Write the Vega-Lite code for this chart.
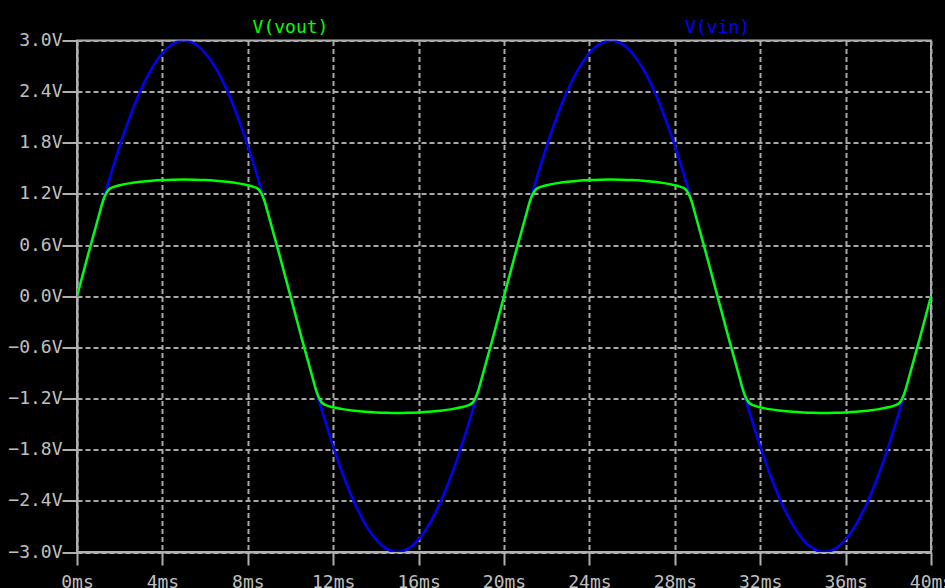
{
  "$schema": "https://vega.github.io/schema/vega-lite/v6.json",
  "width": 854,
  "height": 511.5,
  "autosize": {"type": "none"},
  "padding": {"left": 77, "top": 40.5, "right": 14, "bottom": 36},
  "background": "#000000",
  "config": {
    "view": {"stroke": "#b0b0b0", "strokeWidth": 2, "fill": "#000000"},
    "axis": {
      "domainColor": "#b0b0b0",
      "domainWidth": 2,
      "tickColor": "#b0b0b0",
      "tickWidth": 2,
      "gridColor": "#a8a8a8",
      "gridWidth": 2,
      "gridDash": [5, 3],
      "labelColor": "#c0c0c0",
      "labelFont": "DejaVu Sans Mono",
      "labelFontSize": 18,
      "labelOverlap": false,
      "labelBound": false,
      "labelFlush": false
    },
    "axisX": {"tickSize": 13, "labelPadding": 8},
    "axisY": {"tickSize": 15, "labelPadding": 0}
  },
  "datasets": {
    "trace": [
      {"t": 0, "vin": 0, "vout": 0},
      {"t": 0.5, "vin": 0.469, "vout": 0.469},
      {"t": 1, "vin": 0.927, "vout": 0.924},
      {"t": 1.25, "vin": 1.148, "vout": 1.14},
      {"t": 1.5, "vin": 1.362, "vout": 1.255},
      {"t": 1.75, "vin": 1.568, "vout": 1.285},
      {"t": 2, "vin": 1.763, "vout": 1.302},
      {"t": 2.5, "vin": 2.121, "vout": 1.327},
      {"t": 3, "vin": 2.427, "vout": 1.343},
      {"t": 3.5, "vin": 2.673, "vout": 1.355},
      {"t": 4, "vin": 2.853, "vout": 1.363},
      {"t": 4.5, "vin": 2.963, "vout": 1.368},
      {"t": 5, "vin": 3, "vout": 1.37},
      {"t": 5.5, "vin": 2.963, "vout": 1.368},
      {"t": 6, "vin": 2.853, "vout": 1.363},
      {"t": 6.5, "vin": 2.673, "vout": 1.355},
      {"t": 7, "vin": 2.427, "vout": 1.343},
      {"t": 7.5, "vin": 2.121, "vout": 1.327},
      {"t": 8, "vin": 1.763, "vout": 1.302},
      {"t": 8.25, "vin": 1.568, "vout": 1.285},
      {"t": 8.5, "vin": 1.362, "vout": 1.255},
      {"t": 8.75, "vin": 1.148, "vout": 1.14},
      {"t": 9, "vin": 0.927, "vout": 0.924},
      {"t": 9.5, "vin": 0.469, "vout": 0.469},
      {"t": 10, "vin": 0, "vout": 0},
      {"t": 10.5, "vin": -0.469, "vout": -0.469},
      {"t": 11, "vin": -0.927, "vout": -0.924},
      {"t": 11.25, "vin": -1.148, "vout": -1.14},
      {"t": 11.5, "vin": -1.362, "vout": -1.255},
      {"t": 11.75, "vin": -1.568, "vout": -1.285},
      {"t": 12, "vin": -1.763, "vout": -1.302},
      {"t": 12.5, "vin": -2.121, "vout": -1.327},
      {"t": 13, "vin": -2.427, "vout": -1.343},
      {"t": 13.5, "vin": -2.673, "vout": -1.355},
      {"t": 14, "vin": -2.853, "vout": -1.363},
      {"t": 14.5, "vin": -2.963, "vout": -1.368},
      {"t": 15, "vin": -3, "vout": -1.37},
      {"t": 15.5, "vin": -2.963, "vout": -1.368},
      {"t": 16, "vin": -2.853, "vout": -1.363},
      {"t": 16.5, "vin": -2.673, "vout": -1.355},
      {"t": 17, "vin": -2.427, "vout": -1.343},
      {"t": 17.5, "vin": -2.121, "vout": -1.327},
      {"t": 18, "vin": -1.763, "vout": -1.302},
      {"t": 18.25, "vin": -1.568, "vout": -1.285},
      {"t": 18.5, "vin": -1.362, "vout": -1.255},
      {"t": 18.75, "vin": -1.148, "vout": -1.14},
      {"t": 19, "vin": -0.927, "vout": -0.924},
      {"t": 19.5, "vin": -0.469, "vout": -0.469},
      {"t": 20, "vin": 0, "vout": 0},
      {"t": 20.5, "vin": 0.469, "vout": 0.469},
      {"t": 21, "vin": 0.927, "vout": 0.924},
      {"t": 21.25, "vin": 1.148, "vout": 1.14},
      {"t": 21.5, "vin": 1.362, "vout": 1.255},
      {"t": 21.75, "vin": 1.568, "vout": 1.285},
      {"t": 22, "vin": 1.763, "vout": 1.302},
      {"t": 22.5, "vin": 2.121, "vout": 1.327},
      {"t": 23, "vin": 2.427, "vout": 1.343},
      {"t": 23.5, "vin": 2.673, "vout": 1.355},
      {"t": 24, "vin": 2.853, "vout": 1.363},
      {"t": 24.5, "vin": 2.963, "vout": 1.368},
      {"t": 25, "vin": 3, "vout": 1.37},
      {"t": 25.5, "vin": 2.963, "vout": 1.368},
      {"t": 26, "vin": 2.853, "vout": 1.363},
      {"t": 26.5, "vin": 2.673, "vout": 1.355},
      {"t": 27, "vin": 2.427, "vout": 1.343},
      {"t": 27.5, "vin": 2.121, "vout": 1.327},
      {"t": 28, "vin": 1.763, "vout": 1.302},
      {"t": 28.25, "vin": 1.568, "vout": 1.285},
      {"t": 28.5, "vin": 1.362, "vout": 1.255},
      {"t": 28.75, "vin": 1.148, "vout": 1.14},
      {"t": 29, "vin": 0.927, "vout": 0.924},
      {"t": 29.5, "vin": 0.469, "vout": 0.469},
      {"t": 30, "vin": 0, "vout": 0},
      {"t": 30.5, "vin": -0.469, "vout": -0.469},
      {"t": 31, "vin": -0.927, "vout": -0.924},
      {"t": 31.25, "vin": -1.148, "vout": -1.14},
      {"t": 31.5, "vin": -1.362, "vout": -1.255},
      {"t": 31.75, "vin": -1.568, "vout": -1.285},
      {"t": 32, "vin": -1.763, "vout": -1.302},
      {"t": 32.5, "vin": -2.121, "vout": -1.327},
      {"t": 33, "vin": -2.427, "vout": -1.343},
      {"t": 33.5, "vin": -2.673, "vout": -1.355},
      {"t": 34, "vin": -2.853, "vout": -1.363},
      {"t": 34.5, "vin": -2.963, "vout": -1.368},
      {"t": 35, "vin": -3, "vout": -1.37},
      {"t": 35.5, "vin": -2.963, "vout": -1.368},
      {"t": 36, "vin": -2.853, "vout": -1.363},
      {"t": 36.5, "vin": -2.673, "vout": -1.355},
      {"t": 37, "vin": -2.427, "vout": -1.343},
      {"t": 37.5, "vin": -2.121, "vout": -1.327},
      {"t": 38, "vin": -1.763, "vout": -1.302},
      {"t": 38.25, "vin": -1.568, "vout": -1.285},
      {"t": 38.5, "vin": -1.362, "vout": -1.255},
      {"t": 38.75, "vin": -1.148, "vout": -1.14},
      {"t": 39, "vin": -0.927, "vout": -0.924},
      {"t": 39.5, "vin": -0.469, "vout": -0.469},
      {"t": 40, "vin": 0, "vout": 0}
    ]
  },
  "layer": [
    {
      "data": {"name": "trace"},
      "mark": {"type": "line", "color": "#0000ff", "strokeWidth": 2.5, "interpolate": "monotone", "clip": true},
      "encoding": {
        "x": {
          "field": "t",
          "type": "quantitative",
          "scale": {"domain": [0, 40], "nice": false, "zero": false},
          "axis": {"title": null, "values": [0, 4, 8, 12, 16, 20, 24, 28, 32, 36, 40], "labelExpr": "datum.value + 'ms'"}
        },
        "y": {
          "field": "vin",
          "type": "quantitative",
          "scale": {"domain": [-3, 3], "nice": false},
          "axis": {"title": null, "values": [-3, -2.4, -1.8, -1.2, -0.6, 0, 0.6, 1.2, 1.8, 2.4, 3], "labelExpr": "format(datum.value, '.1f') + 'V'"}
        }
      }
    },
    {
      "data": {"name": "trace"},
      "mark": {"type": "line", "color": "#00ff00", "strokeWidth": 2.5, "interpolate": "monotone", "clip": true},
      "encoding": {
        "x": {"field": "t", "type": "quantitative"},
        "y": {"field": "vout", "type": "quantitative"}
      }
    },
    {
      "data": {"values": [{"t": 10, "v": 3, "label": "V(vout)"}]},
      "mark": {"type": "text", "color": "#00ff00", "font": "DejaVu Sans Mono", "fontSize": 18, "dy": -13, "baseline": "middle", "align": "center"},
      "encoding": {
        "x": {"field": "t", "type": "quantitative"},
        "y": {"field": "v", "type": "quantitative"},
        "text": {"field": "label"}
      }
    },
    {
      "data": {"values": [{"t": 30, "v": 3, "label": "V(vin)"}]},
      "mark": {"type": "text", "color": "#0000ff", "font": "DejaVu Sans Mono", "fontSize": 18, "dy": -13, "baseline": "middle", "align": "center"},
      "encoding": {
        "x": {"field": "t", "type": "quantitative"},
        "y": {"field": "v", "type": "quantitative"},
        "text": {"field": "label"}
      }
    }
  ]
}
